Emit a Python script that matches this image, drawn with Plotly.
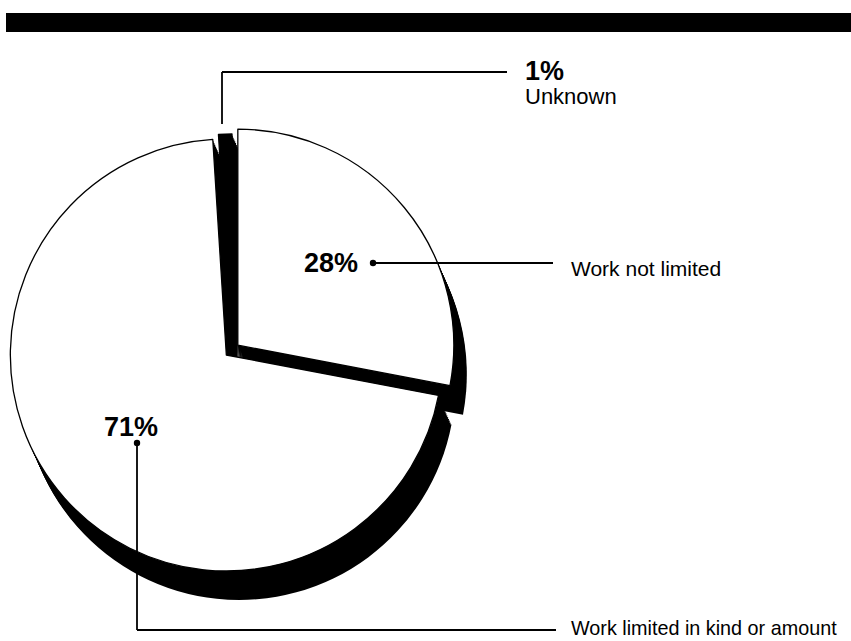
import plotly.graph_objects as go

W, H = 851, 641

# data
labels = ["Unknown", "Work not limited", "Work limited in kind or amount"]
shares = [1, 28, 71]
pct_text = ["1%", "28%", "71%"]
slice_fill = ["#000000", "#ffffff", "#ffffff"]

# pie geometry (pixels)
PIE_CX, PIE_CY, PIE_R = 232, 350, 216
PULL = 0.035
DEPTH = (13, 29)      # offset of the extruded base
LAYERS = 16

FONT = "Liberation Sans, Arial, Helvetica, sans-serif"


def px(x):
    return x / W


def py(y):
    return 1 - y / H


def domain(cx, cy):
    half = PIE_R * (1 + PULL)
    return dict(x=[px(cx - half), px(cx + half)], y=[py(cy + half), py(cy - half)])


# first slice ends at 12 o'clock
rotation = -360 * shares[0] / sum(shares)
# the two large slices are drawn slightly apart
pulls = [0, PULL, PULL]

fig = go.Figure()

# solid black base, swept down-right to give the disc its thickness
for k in range(LAYERS, 0, -1):
    f = k / LAYERS
    fig.add_trace(go.Pie(
        labels=labels, values=shares, sort=False, direction="clockwise",
        rotation=rotation, pull=pulls,
        marker=dict(colors=["#000000"] * len(shares), line=dict(width=0)),
        textinfo="none", hoverinfo="skip", showlegend=False,
        domain=domain(PIE_CX + DEPTH[0] * f, PIE_CY + DEPTH[1] * f),
    ))

# top face
fig.add_trace(go.Pie(
    labels=labels, values=shares, sort=False, direction="clockwise",
    rotation=rotation, pull=pulls,
    marker=dict(colors=slice_fill, line=dict(color="#000000", width=1.3)),
    textinfo="none", hoverinfo="label+percent", showlegend=False,
    domain=domain(PIE_CX, PIE_CY),
))

shapes = []
# heavy rule across the top
shapes.append(dict(type="rect", xref="paper", yref="paper",
                   x0=px(6), x1=px(851), y0=py(32), y1=py(13),
                   fillcolor="#000000", line=dict(width=0), layer="above"))


def seg(x0, y0, x1, y1):
    shapes.append(dict(type="line", xref="paper", yref="paper",
                       x0=px(x0), y0=py(y0), x1=px(x1), y1=py(y1),
                       line=dict(color="#000000", width=1.8)))


def dot(x, y, r=3.2):
    shapes.append(dict(type="circle", xref="paper", yref="paper",
                       x0=px(x - r), x1=px(x + r), y0=py(y + r), y1=py(y - r),
                       fillcolor="#000000", line=dict(width=0)))


# leader lines
seg(222, 124, 222, 72)
seg(222, 72, 507, 72)
dot(373, 263)
seg(373, 263, 553, 263)
dot(137, 443)
seg(137, 443, 137, 630)
seg(137, 630, 556, 630)

annotations = []


def label(text, x, y, size, bold=False, xanchor="left"):
    annotations.append(dict(
        text=text, xref="paper", yref="paper", x=px(x), y=py(y),
        xanchor=xanchor, yanchor="middle", showarrow=False,
        font=dict(family=FONT, size=size, color="#000000",
                  weight="bold" if bold else "normal"),
    ))


label(pct_text[0], 523, 71, 27, bold=True)
label(labels[0], 523, 97, 22)
label(pct_text[1], 360, 263, 27, bold=True, xanchor="right")
label(labels[1], 569, 268, 21)
label(pct_text[2], 102, 427, 27, bold=True)
label(labels[2], 569, 628, 19.8)

fig.update_layout(
    width=W, height=H,
    margin=dict(l=0, r=0, t=0, b=0),
    paper_bgcolor="#ffffff", plot_bgcolor="#ffffff",
    shapes=shapes, annotations=annotations,
    showlegend=False,
)

fig.write_html("out.html", config={"displayModeBar": False})
